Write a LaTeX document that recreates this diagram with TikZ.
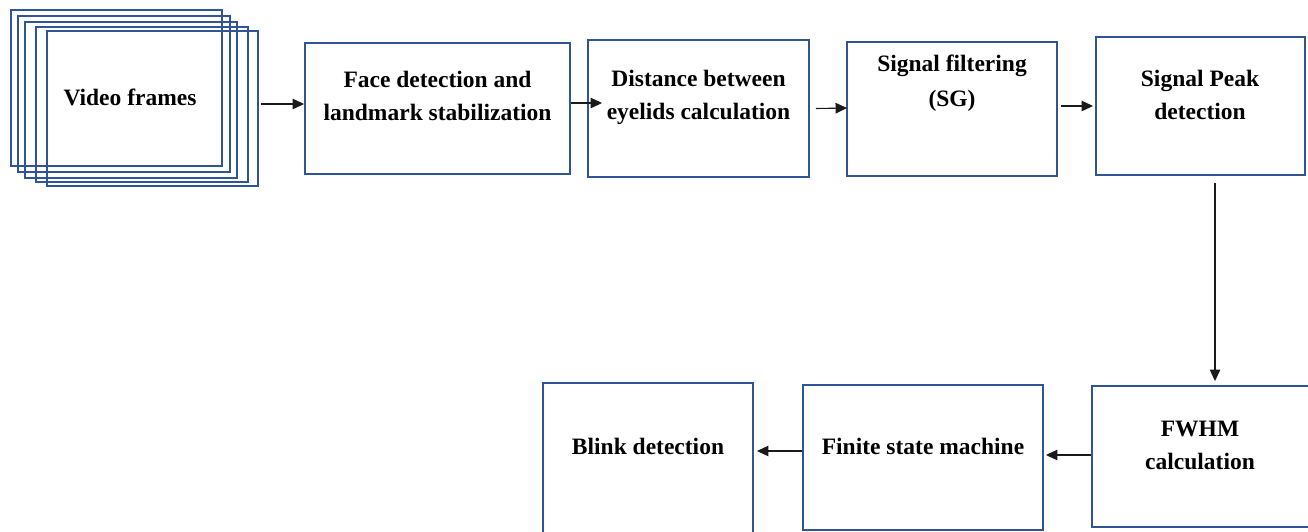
\documentclass[tikz,border=0pt]{standalone}
\usepackage{fontspec}
\setmainfont{Liberation Serif}
\usetikzlibrary{arrows.meta}
\definecolor{boxblue}{HTML}{2F5597}
\definecolor{arrowgray}{HTML}{1A1A1A}
\begin{document}
\begin{tikzpicture}[x=1pt,y=-1pt,
  frame/.style={draw=boxblue,line width=1.9pt,inner sep=0pt,rectangle},
  label/.style={font=\fontsize{23.5}{33}\selectfont\bfseries,align=center,inner sep=0pt,text=black},
  arr/.style={draw=arrowgray,line width=1.1pt,-{Triangle[length=11.5pt,width=10.5pt]}}]
\useasboundingbox (0,0) rectangle (1308,531);
\clip (0,0) rectangle (1308,531);

% stacked video frames
\node[frame,minimum width=211,minimum height=156] (f1) at (116.5,88) {};
\node[frame,minimum width=212,minimum height=156] (f2) at (124,94) {};
\node[frame,minimum width=212,minimum height=156] (f3) at (131,100) {};
\node[frame,minimum width=212,minimum height=155] (f4) at (142,104.5) {};
\node[frame,minimum width=211,minimum height=155] (f5) at (152.5,108.5) {};
\node[label] (t1) at (130,97) {Video frames};

% processing stages, top row
\node[frame,minimum width=265,minimum height=131] (b2) at (437.5,108.5) {};
\node[label] (t2) at (437.5,96) {Face detection and\\landmark stabilization};
\node[frame,minimum width=221,minimum height=137] (b3) at (698.5,108.5) {};
\node[label] (t3) at (698.5,97) {Distance between\\eyelids calculation};
\node[frame,minimum width=210,minimum height=134] (b4) at (952,109) {};
\node[label,font=\fontsize{23.5}{35}\selectfont\bfseries] (t4) at (952,83) {Signal filtering\\(SG)};
\node[frame,minimum width=209,minimum height=138] (b5) at (1200.5,106) {};
\node[label] (t5) at (1200,95) {Signal Peak\\detection};

% processing stages, bottom row
\node[frame,minimum width=238,minimum height=141] (b6) at (1211,456.5) {};
\node[label] (t6) at (1200,445) {FWHM\\calculation};
\node[frame,minimum width=240,minimum height=145] (b7) at (923,457.5) {};
\node[label] (t7) at (923,446) {Finite state machine};
\node[frame,minimum width=210,minimum height=177] (b8) at (648,471.5) {};
\node[label] (t8) at (648,446) {Blink detection};

% connectors
\draw[arr] ([xshift=2pt,yshift=4.5pt]f5.east) -- ([yshift=4.5pt]b2.west);
\draw[arr] ([yshift=5.5pt]b2.east) -- ([xshift=15pt,yshift=5.5pt]b3.west);
\draw[arr] ([xshift=6pt]b3.east) -- ([xshift=1pt,yshift=1pt]b4.west);
\draw[arr] ([xshift=3pt,yshift=3pt]b4.east) -- ([xshift=-2pt]b5.west);
\draw[arr] ([xshift=14.5pt,yshift=-7pt]b5.south) -- ([xshift=4pt,yshift=4pt]b6.north);
\draw[arr] ([yshift=1.5pt]b6.west) -- ([xshift=2pt,yshift=2.5pt]b7.east);
\draw[arr] ([yshift=6.5pt]b7.west) -- ([xshift=3pt,yshift=20.5pt]b8.east);
\end{tikzpicture}
\end{document}
